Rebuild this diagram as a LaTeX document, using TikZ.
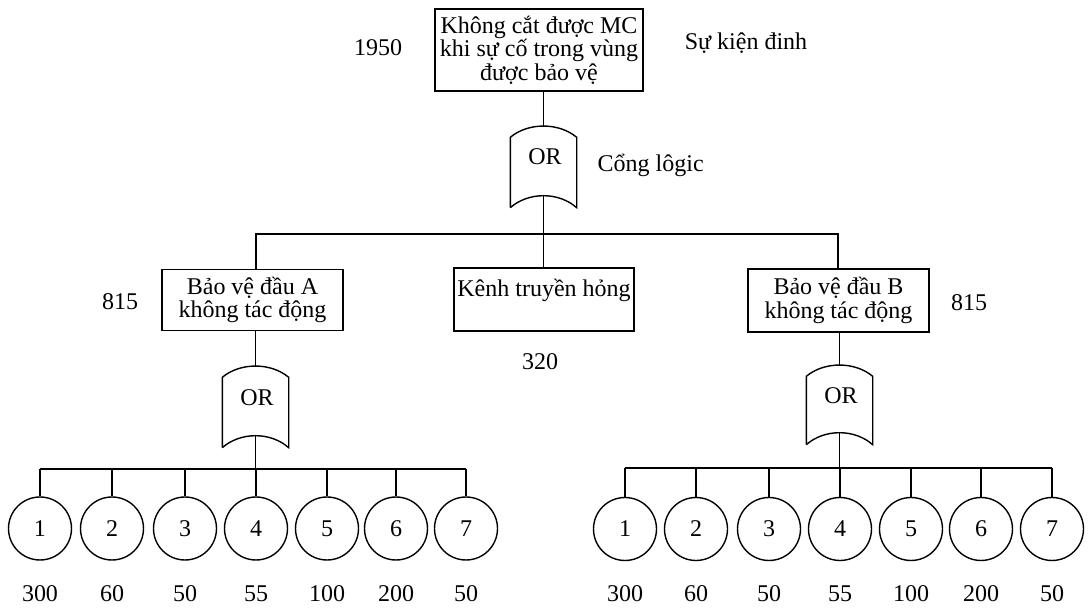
\documentclass[tikz,border=0pt]{standalone}
\usepackage{fontspec}
\setmainfont{Liberation Serif}
\usetikzlibrary{calc}
\newcommand\gateshape[1]{%
  \draw (#1.south west) -- (#1.north west)
    .. controls ($(#1.north west)+(18,-15)$) and ($(#1.north east)+(-18,-15)$) .. (#1.north east)
    -- (#1.south east)
    .. controls ($(#1.south east)+(-18,-16)$) and ($(#1.south west)+(18,-16)$) .. (#1.south west);
  \coordinate (#1t) at ($(#1.north)+(0,-11)$);
  \coordinate (#1b) at ($(#1.south)+(0,-12)$);
}
\begin{document}
\begin{tikzpicture}[x=1pt,y=-1pt,line width=1.4pt,
  every node/.style={font=\fontsize{24}{23.5}\selectfont},
  evbox/.style={draw,rectangle,inner sep=0pt,align=center},
  gatebox/.style={rectangle,inner sep=0pt,minimum width=65pt,minimum height=69pt,anchor=center},
  leaf/.style={draw,circle,inner sep=0pt,minimum size=63pt},
  lbl/.style={inner sep=0pt}]
\useasboundingbox (0,0) rectangle (1088,609);

% top event
\node[evbox,minimum width=208pt,minimum height=82pt] (top) at (539,50)
  {Không cắt được MC\\khi sự cố trong vùng\\được bảo vệ};
\node[lbl] (n1950) at (378,48) {1950};
\node[lbl] (sk) at (746,43) {Sự kiện đinh};

% top gate
\node[gatebox] (gT) at (543.5,172.5) {};
\node[lbl] (orT) at (545,157) {OR};
\gateshape{gT}
\node[lbl,anchor=west] (cl) at (597,165) {Cổng lôgic};

% second level
\node[evbox,minimum width=181pt,minimum height=61pt] (bA) at (252.5,300) {Bảo vệ đầu A\\không tác động};
\node[evbox,minimum width=180pt,minimum height=63pt] (kn) at (544,299.5) {Kênh truyền hỏng\\\mbox{}};
\node[evbox,minimum width=181pt,minimum height=63pt] (bB) at (838.5,300.5) {Bảo vệ đầu B\\không tác động};
\node[lbl] (n815a) at (120,302) {815};
\node[lbl] (n320) at (540,362) {320};
\node[lbl] (n815b) at (969,303) {815};

\coordinate (busT) at (543.5,234);
\draw (top.south -| gTt) -- (gTt);
\draw (gTb) -- (busT);
\draw (bA.north -| 256,0) |- (busT) -| (bB.north -| 838,0);
\draw (busT) -- (kn.north -| busT);

% left gate
\node[gatebox] (gL) at (255.5,412.5) {};
\node[lbl] (orL) at (257,398) {OR};
\gateshape{gL}
\draw (bA.south -| gLt) -- (gLt);
\coordinate (busL) at (255.5,469);
\draw (gLb) -- (busL);

% right gate
\node[gatebox,minimum height=67pt] (gR) at (839.5,410.5) {};
\node[lbl] (orR) at (841,396) {OR};
\gateshape{gR}
\draw (bB.south -| gRt) -- (gRt);
\coordinate (busR) at (839.5,468);
\draw (gRb) -- (busR);

% left leaves
\foreach \i/\x/\v in {1/40/300,2/112/60,3/185/50,4/256/55,5/327/100,6/396/200,7/466/50}{
  \node[leaf] (L\i) at (\x,528.5) {\i};
  \node[lbl] (vL\i) at (\x,594) {\v};
}
\draw (L1.north |- busL) -- (L7.north |- busL);
\foreach \i in {1,...,7}{ \draw (L\i.north |- busL) -- (L\i.north); }

% right leaves
\foreach \i/\x/\v in {1/625/300,2/696/60,3/769/50,4/840/55,5/911/100,6/981/200,7/1052/50}{
  \node[leaf] (R\i) at (\x,529) {\i};
  \node[lbl] (vR\i) at (\x,594) {\v};
}
\draw (R1.north |- busR) -- (R7.north |- busR);
\foreach \i in {1,...,7}{ \draw (R\i.north |- busR) -- (R\i.north); }
\end{tikzpicture}
\end{document}
